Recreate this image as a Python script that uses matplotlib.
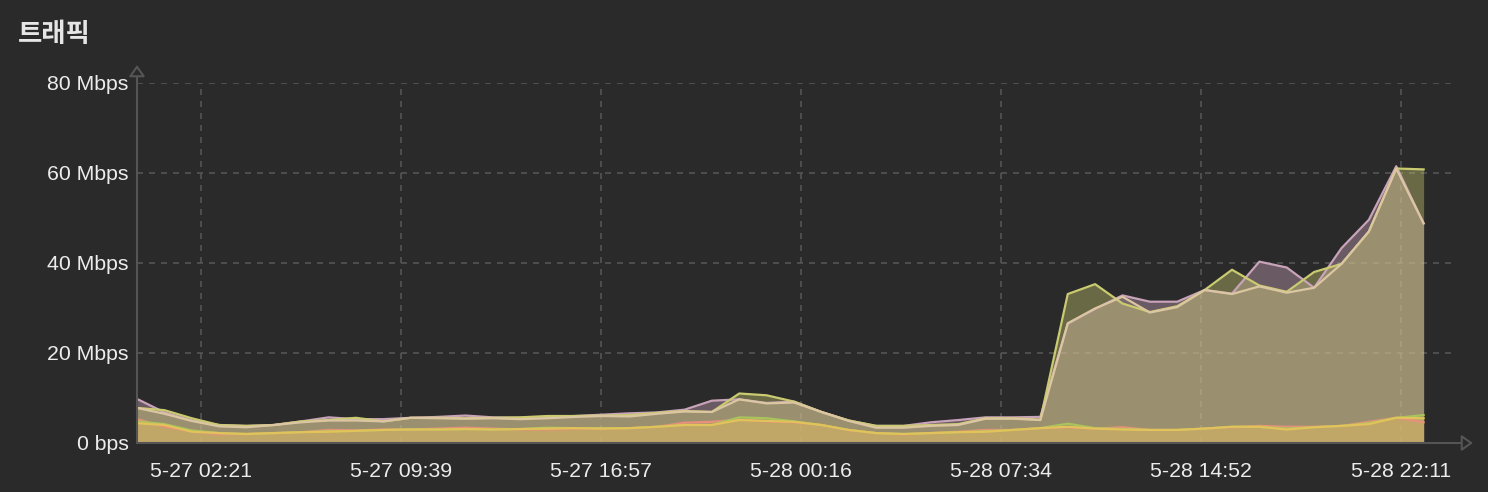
import numpy as np
import matplotlib.pyplot as plt

# ===== data (Mbps, hourly from 5-27 00:00) =====
hours = list(range(48))

pink = [9.8, 6.8, 5.0, 4.0, 3.8, 4.0, 4.8, 5.7, 5.3, 5.3, 5.6, 5.8, 6.1, 5.7, 5.6, 5.6,
        6.0, 6.3, 6.6, 6.8, 7.4, 9.4, 9.7, 8.9, 9.2, 6.9, 5.0, 3.8, 3.8, 4.6, 5.1, 5.7,
        5.7, 5.8, 26.5, 29.8, 32.8, 31.4, 31.4, 34.0, 33.2, 40.3, 39.0, 34.5, 43.3, 49.6, 61.5, 48.8]
green = [7.8, 7.3, 5.5, 4.0, 3.8, 4.0, 4.8, 5.1, 5.6, 4.8, 5.6, 5.6, 5.5, 5.6, 5.7, 6.0,
         6.0, 6.1, 6.2, 6.7, 7.1, 6.9, 11.0, 10.6, 9.2, 6.9, 5.0, 3.8, 3.8, 4.0, 4.2, 5.5,
         5.5, 5.2, 33.1, 35.3, 31.0, 29.1, 30.4, 34.0, 38.5, 35.0, 33.6, 38.0, 39.8, 47.0, 61.0, 60.8]
beige = [7.8, 6.5, 4.9, 3.7, 3.5, 4.0, 4.6, 5.0, 5.0, 4.8, 5.6, 5.5, 5.4, 5.5, 5.3, 5.5,
         5.8, 6.0, 5.9, 6.5, 7.0, 6.9, 9.7, 8.8, 9.0, 6.9, 4.9, 3.4, 3.4, 3.8, 4.0, 5.4,
         5.4, 5.1, 26.6, 29.9, 32.5, 29.0, 30.2, 34.0, 33.1, 34.8, 33.4, 34.5, 39.8, 47.0, 61.0, 48.8]
salmon = [5.3, 3.6, 2.6, 1.9, 2.0, 2.2, 2.4, 2.9, 2.8, 3.0, 3.0, 3.2, 3.4, 3.2, 3.0, 3.0,
          3.1, 3.2, 3.3, 3.6, 4.5, 4.7, 5.2, 4.8, 4.6, 4.0, 2.8, 2.2, 1.9, 2.2, 2.5, 2.9,
          2.9, 3.3, 3.5, 3.2, 3.5, 2.9, 2.9, 3.2, 3.5, 3.8, 3.6, 3.6, 3.8, 4.7, 5.6, 4.6]
yellow = [4.4, 4.0, 2.5, 2.2, 2.0, 2.2, 2.4, 2.5, 2.7, 2.9, 3.0, 3.0, 3.1, 3.0, 3.1, 3.2,
          3.3, 3.2, 3.3, 3.6, 4.0, 4.0, 5.1, 4.9, 4.7, 4.0, 2.9, 2.2, 2.0, 2.2, 2.4, 2.5,
          2.9, 3.3, 3.6, 3.2, 3.0, 2.9, 2.9, 3.2, 3.6, 3.6, 3.0, 3.5, 3.8, 4.2, 5.6, 5.5]
lime = [4.8, 4.2, 2.8, 2.2, 2.0, 2.2, 2.4, 2.6, 2.7, 2.9, 3.0, 3.0, 3.1, 3.0, 3.1, 3.4,
        3.3, 3.3, 3.3, 3.6, 4.0, 4.0, 5.7, 5.5, 4.8, 4.0, 2.9, 2.2, 2.0, 2.2, 2.4, 2.6,
        2.9, 3.3, 4.3, 3.3, 3.1, 2.9, 2.9, 3.2, 3.6, 3.6, 3.2, 3.5, 3.8, 4.4, 5.6, 6.2]

tick_labels = ['5-27 02:21', '5-27 09:39', '5-27 16:57', '5-28 00:16',
               '5-28 07:34', '5-28 14:52', '5-28 22:11']
y_ticks = [0, 20, 40, 60, 80]
y_labels = ['0 bps', '20 Mbps', '40 Mbps', '60 Mbps', '80 Mbps']

def to_hours(lbl):
    d, hm = lbl.split(' ')
    day = int(d.split('-')[1]) - 27
    h, m = hm.split(':')
    return day * 24 + int(h) + int(m) / 60

tick_pos = [to_hours(s) for s in tick_labels]

BG = '#2a2a2a'
AX = '#555555'
TXT = '#ececec'

series = [
    (pink, '#c9a3b9', 0.40),
    (green, '#cacb70', 0.40),
    (beige, '#dcc6a2', 0.15),
    (salmon, '#e8907c', 0.30),
    (lime, '#a9c45c', 0.20),
    (yellow, '#e2c25a', 0.35),
]

plt.rcParams['font.family'] = ['Liberation Sans', 'DejaVu Sans']

fig = plt.figure(figsize=(14.88, 4.92), dpi=100, facecolor=BG)
ax = fig.add_axes([137/1488, 49/492, (1451-137)/1488, 360/492])
ax.set_facecolor(BG)

x = np.array(hours)
for vals, col, a in series:
    ax.fill_between(x, vals, 0, color=col, alpha=a, lw=0)
for vals, col, a in series:
    ax.plot(x, vals, color=col, lw=1.6)

ax.set_xlim(0, 48)
ax.set_ylim(0, 80)

for v in y_ticks[1:]:
    ax.axhline(v, color=AX, lw=1.2, ls=(0, (3.6, 3.6)), zorder=0)
for p in tick_pos:
    ax.axvline(p, color=AX, lw=1.2, ls=(0, (3.6, 3.6)), zorder=0)

ax.set_xticks(tick_pos)
ax.set_xticklabels(tick_labels)
ax.set_yticks(y_ticks)
ax.set_yticklabels(y_labels)
ax.tick_params(length=0, colors=TXT, labelsize=15.3)
ax.tick_params(axis='x', pad=14)
ax.tick_params(axis='y', pad=6)
for s in ax.spines.values():
    s.set_visible(False)

# axis lines with hollow arrows
arrow = dict(arrowstyle='-|>,head_length=0.34,head_width=0.24', fc=BG, ec=AX, lw=1.5,
             shrinkA=0, shrinkB=0, mutation_scale=20)
ax.annotate('', xy=(137/1488, 1 - 65/492), xytext=(137/1488, 1 - 443/492),
            xycoords='figure fraction', arrowprops=arrow)
ax.annotate('', xy=(1473/1488, 1 - 443/492), xytext=(137/1488, 1 - 443/492),
            xycoords='figure fraction', arrowprops=arrow)

fig.text(18/1488, 1 - 34/492, '트래픽', color='#e6e6e6', fontsize=19, fontweight='bold',
         va='center', ha='left', family=['Noto Sans CJK KR', 'DejaVu Sans'])

fig.savefig('out.png', dpi=100, facecolor=BG)
